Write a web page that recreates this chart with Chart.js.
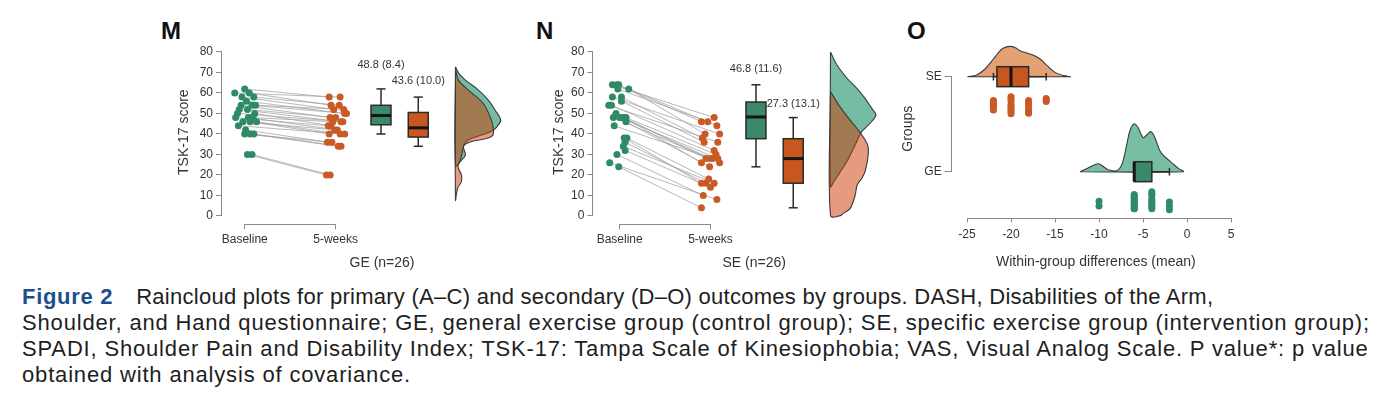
<!DOCTYPE html>
<html>
<head>
<meta charset="utf-8">
<script src="https://cdn.jsdelivr.net/npm/chart.js@4.4.0/dist/chart.umd.min.js"></script>
<style>
body{margin:0;width:1400px;height:402px;background:#fff;position:relative;overflow:hidden;font-family:'Liberation Sans',Arial,sans-serif}
canvas{position:absolute}
.tag{position:absolute;font-weight:bold;font-size:24px;line-height:24px;color:#111}
#cap{position:absolute;left:22px;top:284px;font-size:22px;line-height:26px;color:#1e1e1e;white-space:nowrap;letter-spacing:0.83px}
#cap b{color:#1d4f8e;letter-spacing:0.7px}
#cap .l1{letter-spacing:0.27px}
</style>
</head>
<body>
<div class="tag" style="left:161px;top:19px">M</div>
<div class="tag" style="left:536px;top:19px">N</div>
<div class="tag" style="left:907px;top:19px">O</div>
<canvas id="chM" width="386" height="260" style="left:160px;top:15px"></canvas>
<canvas id="chN" width="379" height="260" style="left:540px;top:15px"></canvas>
<canvas id="chO" width="360" height="260" style="left:900px;top:15px"></canvas>
<div id="cap"><b>Figure 2</b><span style="display:inline-block;width:23px"></span><span class="l1">Raincloud plots for primary (A–C) and secondary (D–O) outcomes by groups. DASH, Disabilities of the Arm,</span><br>Shoulder, and Hand questionnaire; GE, general exercise group (control group); SE, specific exercise group (intervention group);<br>SPADI, Shoulder Pain and Disability Index; TSK-17: Tampa Scale of Kinesiophobia; VAS, Visual Analog Scale. P value*: p value<br>obtained with analysis of covariance.</div>
<script>
Chart.defaults.font.family = "'Liberation Sans', Arial, sans-serif";
Chart.defaults.color = '#333';

// ---- data ----
var timeLabels = ['Baseline', '5-weeks'];
var groupLabels = ['GE', 'SE'];
var scoreTicks = [0, 10, 20, 30, 40, 50, 60, 70, 80];
var diffTicks = [-25, -20, -15, -10, -5, 0, 5];

// TSK-17 per patient (GE n=26, SE n=26)
var geBase  = [62,60,60,58,58,56,54,54,54,52,52,50,50,48,48,48,46,46,46,44,42,40,40,40,30,30];
var geWeek5 = [58,58,54,54,52,50,48,50,52,46,48,44,46,42,44,46,40,42,40,40,36,36,34,34,20,20];
var seBase  = [64,64,64,62,62,58,58,56,54,54,50,48,48,48,48,48,46,44,38,38,36,34,32,30,26,24];
var seWeek5 = [48,46,44,46,40,40,38,36,36,32,28,28,28,26,30,26,24,28,16,18,16,16,14,10,8,4];

// horizontal jitter of the rain points
var geBaseJit  = [0.00,-0.11,0.05,0.10,-0.03,0.02,-0.04,0.08,0.12,-0.06,0.03,0.11,-0.08,0.04,-0.10,0.09,0.13,-0.02,0.06,-0.07,0.01,0.00,0.06,0.10,0.03,0.08];
var geWeekJit  = [-0.07,0.05,-0.05,0.04,-0.02,0.10,-0.06,0.12,0.09,0.06,0.00,-0.05,0.08,0.02,-0.08,-0.03,0.05,-0.01,-0.07,0.10,-0.09,-0.04,0.03,0.06,-0.10,-0.06];
var seBaseJit  = [-0.08,-0.03,-0.01,-0.02,0.10,-0.08,0.02,0.02,-0.12,-0.09,-0.04,-0.07,0.00,0.05,0.07,0.03,0.07,-0.06,0.05,0.08,0.06,0.04,0.06,-0.03,-0.11,-0.01];
var seWeekJit  = [0.04,-0.10,0.07,-0.03,-0.06,0.10,-0.09,-0.07,0.08,0.04,-0.05,0.00,0.08,-0.10,0.06,0.10,-0.01,0.02,-0.10,-0.02,-0.05,0.04,0.00,-0.08,0.07,-0.10];

// box stats: min, q1, median, q3, max
var geTimeBox = [[40,44.5,49,54,62],[34,38.5,43,50.5,58]];
var seTimeBox = [[24,37.7,48.3,55.6,64],[4,16,28,37.7,48]];
var geMeanSd = ['48.8 (8.4)', '43.6 (10.0)'];
var seMeanSd = ['46.8 (11.6)', '27.3 (13.1)'];

// half-violin densities (score, width)
var geBaseDensV = [72.8,69.6,66.3,61.5,56.6,51.7,46.8,43.6,41.7,39.6,37.2,33.9,29.8,26.6,24.5];
var geBaseDensW = [0,0.036,0.109,0.25,0.359,0.435,0.497,0.457,0.413,0.293,0.141,0.087,0.109,0.054,0];
var geWeekDensV = [72,66.3,59.8,55,48.5,43.6,39.6,38,36.3,34.7,31.4,27.3,24.1,20,16.8,13.5,7.8];
var geWeekDensW = [0,0.033,0.185,0.304,0.38,0.413,0.413,0.359,0.174,0.098,0.076,0.054,0.027,0.065,0.065,0.022,0];
var seBaseDensV = [80,73.5,67.2,62.3,57.4,52.6,49.3,46.1,42.8,40.8,34.7,28.1,21.6,16.7,14.3];
var seBaseDensW = [0,0.073,0.182,0.29,0.38,0.453,0.5,0.453,0.38,0.337,0.272,0.199,0.109,0.036,0];
var seWeekDensV = [60.7,54.2,47.7,42.8,36.3,33,28.1,21.6,18.4,15.1,10.2,3.7,1.3,0.2,0.2];
var seWeekDensW = [0,0.09,0.199,0.29,0.391,0.416,0.41,0.38,0.345,0.293,0.272,0.217,0.141,0.109,0];

// within-group differences (5-weeks minus baseline)
var geDiff = [-10,-10,-6,-6,-6,-6,-6,-6,-6,-6,-6,-6,-6,-6,-4,-4,-4,-4,-4,-4,-4,-4,-4,-2,-2,-2];
var seDiff = [-22,-22,-22,-22,-22,-22,-22,-20,-20,-20,-20,-20,-20,-20,-20,-20,-18,-18,-18,-18,-18,-18,-18,-16,-16,-16];
var geDiffJit = [0.31,0.36,0.24,0.27,0.30,0.33,0.36,0.39,0.25,0.28,0.31,0.34,0.37,0.39,0.21,0.25,0.29,0.33,0.37,0.39,0.23,0.31,0.35,0.32,0.40,0.36];
var seDiffJit = [0.25,0.28,0.31,0.35,0.26,0.30,0.34,0.21,0.25,0.29,0.33,0.37,0.39,0.23,0.31,0.35,0.25,0.34,0.385,0.27,0.36,0.30,0.38,0.23,0.26,0.245];
var diffBox = [[-6,-6,-6,-4,-2],[-22,-21.6,-20,-18,-16]];
var geDiffDensX = [-12.16,-11.3,-10.1,-9.4,-8.95,-8.0,-7.4,-6.85,-6.5,-6.0,-5.55,-5.0,-4.6,-4.1,-3.65,-3.07,-2.5,-1.74,-0.99,-0.42];
var geDiffDensH = [0,0.037,0.084,0.047,0.021,0.011,0.077,0.284,0.428,0.505,0.463,0.358,0.386,0.421,0.358,0.218,0.155,0.095,0.035,0];
var seDiffDensX = [-24.96,-23.9,-22.95,-22.0,-21.4,-20.9,-20.1,-19.5,-19.0,-18.2,-17.5,-16.7,-15.9,-15.0,-14.05,-13.3];
var seDiffDensH = [0,0.018,0.081,0.186,0.256,0.298,0.319,0.305,0.274,0.249,0.228,0.186,0.116,0.045,0.011,0];

// ---- styles ----
var ptGreen = '#2f8a66', ptOrange = '#c95a26';
var boxGreen = '#3a8a69', boxOrange = '#c8561f';
var axisGray = '#8a8a8a';
var fontFam = "'Liberation Sans', Arial, sans-serif";

function line(ctx, x1, y1, x2, y2){ ctx.beginPath(); ctx.moveTo(x1,y1); ctx.lineTo(x2,y2); ctx.stroke(); }

// box drawn through the chart scales; pos = category position, st = [min,q1,med,q3,max]
function drawBox(ctx, xs, ys, b, horizontal){
  var px = horizontal ? function(v){return xs.getPixelForValue(v);} : function(v){return ys.getPixelForValue(v);};
  var pc = horizontal ? function(v){return ys.getPixelForValue(v);} : function(v){return xs.getPixelForValue(v);};
  var s = b.st.map(px);
  var c = pc(b.pos), a0 = pc(b.pos - b.half), a1 = pc(b.pos + b.half);
  var k0 = pc(b.pos - b.cap), k1 = pc(b.pos + b.cap);
  function seg(u1, w1, u2, w2){ if(horizontal) line(ctx, u1, w1, u2, w2); else line(ctx, w1, u1, w2, u2); }
  ctx.strokeStyle = '#2b2b2b'; ctx.lineWidth = 1.5;
  seg(s[0], c, s[1], c); seg(s[3], c, s[4], c);
  seg(s[0], k0, s[0], k1); seg(s[4], k0, s[4], k1);
  ctx.fillStyle = b.color;
  var lo = Math.min(s[1], s[3]), hi = Math.max(s[1], s[3]);
  var l2 = Math.min(a0, a1), h2 = Math.max(a0, a1);
  if(horizontal){ ctx.fillRect(lo, l2, hi-lo, h2-l2); ctx.strokeRect(lo, l2, hi-lo, h2-l2); }
  else { ctx.fillRect(l2, lo, h2-l2, hi-lo); ctx.strokeRect(l2, lo, h2-l2, hi-lo); }
  ctx.strokeStyle = '#151515'; ctx.lineWidth = 3;
  seg(s[2], a0, s[2], a1);
  if(b.text){
    ctx.fillStyle = '#333'; ctx.font = '11px ' + fontFam;
    ctx.textAlign = 'center'; ctx.textBaseline = 'middle';
    ctx.fillText(b.text, c, s[4] - b.lift);
  }
}

function rcPlugin(cfg){
  return {
    id: 'rc',
    afterDatasetsDraw: function(chart){
      var ctx = chart.ctx;
      ctx.save();
      cfg.boxes.forEach(function(b){ drawBox(ctx, chart.scales.x, chart.scales.y, b, cfg.horizontal); });
      ctx.restore();
    },
    afterDraw: function(chart){
      var ctx = chart.ctx, xs = chart.scales.x, ys = chart.scales.y, a = chart.chartArea;
      ctx.save();
      ctx.strokeStyle = axisGray; ctx.lineWidth = 1;
      var lx = Math.round(a.left) - 0.5, by = Math.round(a.bottom) + 0.5;
      line(ctx, lx, ys.getPixelForValue(cfg.yAxis[0]), lx, ys.getPixelForValue(cfg.yAxis[1]));
      line(ctx, xs.getPixelForValue(cfg.xAxis[0]), by, xs.getPixelForValue(cfg.xAxis[1]), by);
      ctx.restore();
    }
  };
}

function axes(o){
  return {
    x: {
      type: 'linear', min: o.xMin, max: o.xMax,
      afterBuildTicks: function(s){ s.ticks = o.xTicks.map(function(v){ return {value: v}; }); },
      afterFit: function(s){ s.height = o.xHeight; },
      ticks: {callback: o.xFmt, font: {size: 12}, color: '#333', padding: o.xTickPad, maxRotation: 0, autoSkip: false},
      grid: {drawOnChartArea: false, drawTicks: true, tickLength: 5, color: axisGray},
      border: {display: false},
      title: {display: true, text: o.xTitle, font: {size: 14}, color: '#333', padding: {top: 0, bottom: o.xTitlePad}}
    },
    y: {
      type: 'linear', min: o.yMin, max: o.yMax,
      afterBuildTicks: function(s){ s.ticks = o.yTicks.map(function(v){ return {value: v}; }); },
      afterFit: function(s){ s.width = o.yWidth; },
      ticks: {callback: o.yFmt, font: {size: 12}, color: '#333', padding: 3, autoSkip: false},
      grid: {drawOnChartArea: false, drawTicks: true, tickLength: o.yTickLen, color: axisGray},
      border: {display: false},
      title: {display: true, text: o.yTitle, font: {size: 14}, color: '#333', padding: {top: o.yTitlePad, bottom: 0}}
    }
  };
}

function densV(vals, widths, base, color, order){
  var pts = vals.map(function(v, i){ return {x: base + widths[i], y: v}; });
  pts.push({x: base, y: vals[0]});
  return {type: 'line', data: pts, borderColor: '#3a3a3a', borderWidth: 1.1, backgroundColor: color,
          fill: 'shape', tension: 0.35, pointRadius: 0, order: order};
}

function pairPanel(id, base, week, jb, jw, boxes, meanSd, lifts, dens, xTitle, geo){
  var sets = [];
  sets.push({type: 'scatter', data: base.map(function(v, i){ return {x: 1 + jb[i], y: v}; }),
             backgroundColor: ptGreen, borderWidth: 0, pointRadius: 3.5, order: 0});
  sets.push({type: 'scatter', data: week.map(function(v, i){ return {x: 2 + jw[i], y: v}; }),
             backgroundColor: ptOrange, borderWidth: 0, pointRadius: 3.5, order: 0});
  base.forEach(function(v, i){
    sets.push({type: 'line', data: [{x: 1 + jb[i], y: v}, {x: 2 + jw[i], y: week[i]}],
               borderColor: 'rgba(160,160,160,0.75)', borderWidth: 1, pointRadius: 0, fill: false, order: 6});
  });
  var densBase = 3.32;
  sets.push(densV(dens[0], dens[1], densBase, 'rgb(118,188,162)', 3));
  sets.push(densV(dens[2], dens[3], densBase, 'rgba(205,55,0,0.5)', 2));
  var cols = [boxGreen, boxOrange], posn = [2.5, 2.91];
  var bx = boxes.map(function(st, i){
    return {pos: posn[i], st: st, half: 0.11, cap: 0.05, color: cols[i], text: meanSd[i], lift: lifts[i]};
  });
  new Chart(document.getElementById(id), {
    type: 'scatter',
    data: {datasets: sets},
    options: {
      responsive: false, animation: false, devicePixelRatio: 1,
      layout: {padding: {top: 25, left: 0, right: 0, bottom: 0}},
      plugins: {legend: {display: false}, tooltip: {enabled: false}},
      scales: axes({
        xMin: geo.xMin, xMax: geo.xMax, xTicks: [1, 2],
        xFmt: function(v){ return timeLabels[v - 1]; },
        xHeight: 50.7, xTickPad: 3.5, xTitle: xTitle, xTitlePad: 3.3,
        yMin: -4.05, yMax: 85.85, yTicks: scoreTicks,
        yFmt: function(v){ return v; }, yWidth: geo.yWidth, yTickLen: 6,
        yTitle: 'TSK-17 score', yTitlePad: geo.yTitlePad
      })
    },
    plugins: [rcPlugin({boxes: bx, horizontal: false, yAxis: [0, 80], xAxis: [1, 2]})]
  });
}

pairPanel('chM', geBase, geWeek5, geBaseJit, geWeekJit, geTimeBox, geMeanSd, [24, 16],
  [geBaseDensV, geBaseDensW, geWeekDensV, geWeekDensW], 'GE (n=26)',
  {xMin: 0.75, xMax: 4.272, yWidth: 62, yTitlePad: 15.6});
pairPanel('chN', seBase, seWeek5, seBaseJit, seWeekJit, seTimeBox, seMeanSd, [16, 14],
  [seBaseDensV, seBaseDensW, seWeekDensV, seWeekDensW], 'SE (n=26)',
  {xMin: 0.71, xMax: 4.25, yWidth: 53.3, yTitlePad: 10.6});

// ---- panel O ----
function densH(xs, hs, level, color){
  var pts = xs.map(function(x, i){ return {x: x, y: level + hs[i]}; });
  pts.push({x: xs[0], y: level});
  return {type: 'line', data: pts, borderColor: '#3a3a3a', borderWidth: 1.1, backgroundColor: color,
          fill: 'shape', tension: 0.35, pointRadius: 0, order: 3};
}
var oSets = [
  {type: 'scatter', data: geDiff.map(function(v, i){ return {x: v, y: 1 - geDiffJit[i]}; }),
   backgroundColor: ptGreen, borderWidth: 0, pointRadius: 3.5, order: 0},
  {type: 'scatter', data: seDiff.map(function(v, i){ return {x: v, y: 2 - seDiffJit[i]}; }),
   backgroundColor: ptOrange, borderWidth: 0, pointRadius: 3.5, order: 0},
  densH(geDiffDensX, geDiffDensH, 1, 'rgb(120,190,162)'),
  densH(seDiffDensX, seDiffDensH, 2, 'rgb(229,160,115)')
];
new Chart(document.getElementById('chO'), {
  type: 'scatter',
  data: {datasets: oSets},
  options: {
    responsive: false, animation: false, devicePixelRatio: 1,
    layout: {padding: {top: 25, left: 0, right: 20, bottom: 0}},
    plugins: {legend: {display: false}, tooltip: {enabled: false}},
    scales: axes({
      xMin: -26.74, xMax: 6.02, xTicks: diffTicks,
      xFmt: function(v){ return v; },
      xHeight: 57.5, xTickPad: 5.3, xTitle: 'Within-group differences (mean)', xTitlePad: 4.9,
      yMin: 0.518, yMax: 2.386, yTicks: [1, 2],
      yFmt: function(v){ return groupLabels[v - 1]; }, yWidth: 51.7, yTickLen: 7,
      yTitle: 'Groups', yTitlePad: 0
    })
  },
  plugins: [rcPlugin({
    boxes: [
      {pos: 1, st: diffBox[0], half: 0.105, cap: 0.04, color: boxGreen},
      {pos: 2, st: diffBox[1], half: 0.105, cap: 0.04, color: boxOrange}
    ],
    horizontal: true, yAxis: [1, 2], xAxis: [-25, 5]
  })]
});
</script>
</body>
</html>
